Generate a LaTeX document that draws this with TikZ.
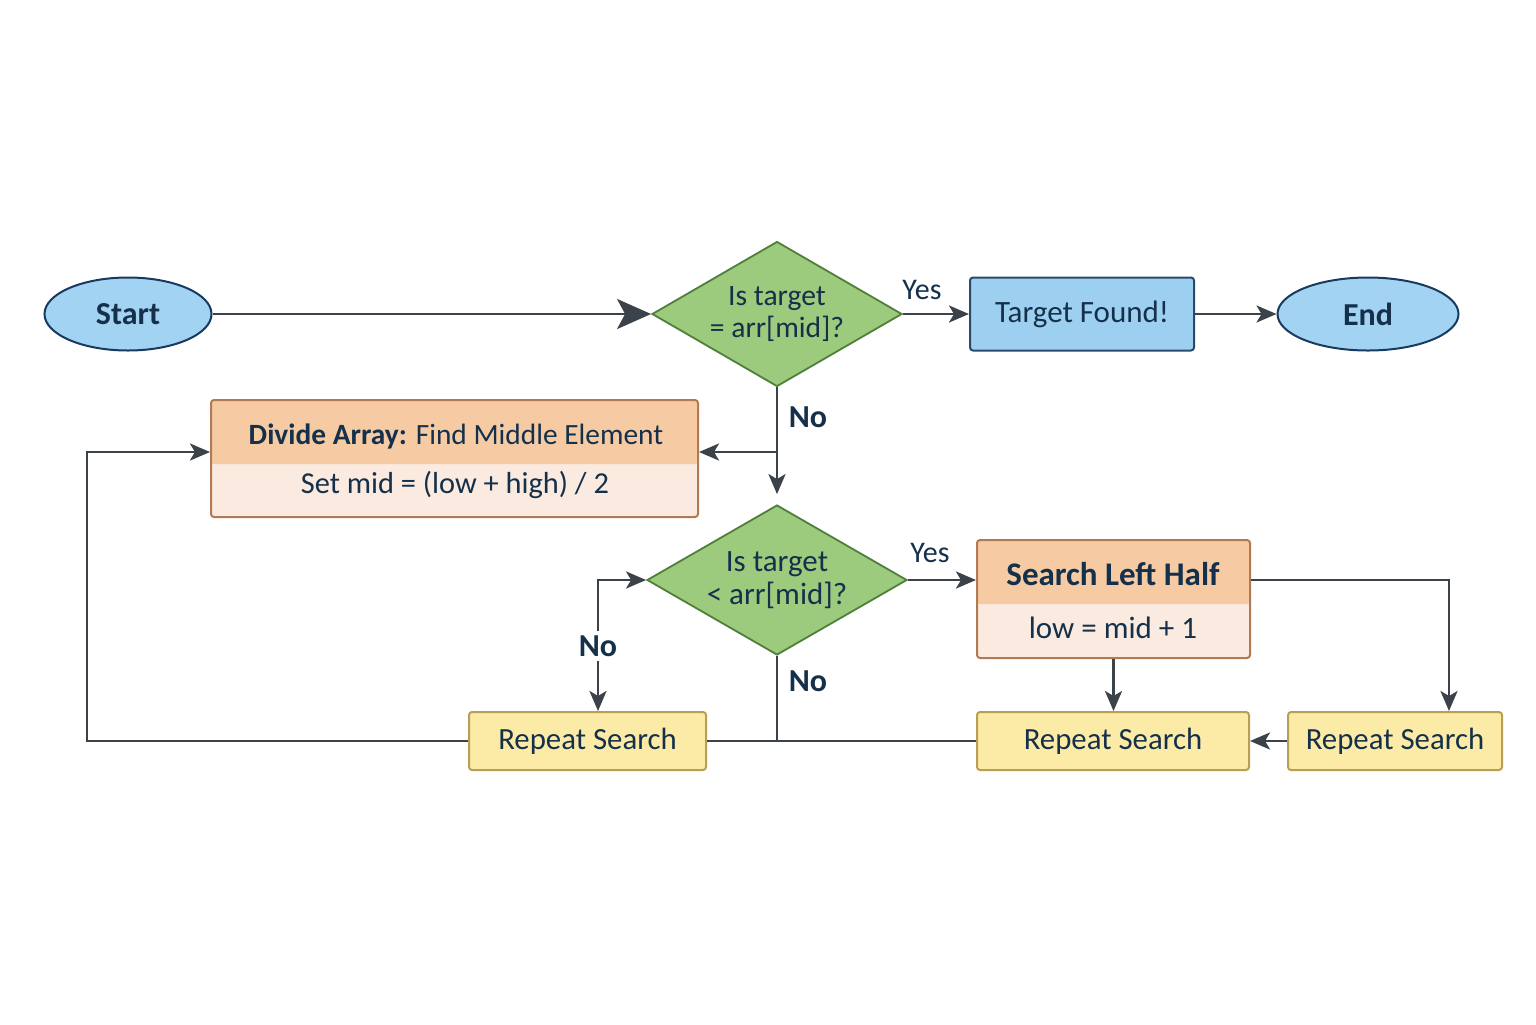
\documentclass[tikz,border=0pt]{standalone}
\usepackage{fontspec}
\setmainfont{Carlito}
\usetikzlibrary{shapes.geometric,arrows.meta,calc}
\definecolor{termfill}{HTML}{A3D3F2}
\definecolor{termborder}{HTML}{173A5E}
\definecolor{decfill}{HTML}{9CCB7E}
\definecolor{decborder}{HTML}{4F7F3A}
\definecolor{procfill}{HTML}{9DD0F0}
\definecolor{procborder}{HTML}{2B4A6B}
\definecolor{hdrfill}{HTML}{F6CBA4}
\definecolor{bodyfill}{HTML}{FAEADF}
\definecolor{oborder}{HTML}{B07A55}
\definecolor{yfill}{HTML}{FCEBA6}
\definecolor{yborder}{HTML}{B99E55}
\definecolor{linec}{HTML}{3C424A}
\definecolor{txt}{HTML}{15304A}
\begin{document}
\begin{tikzpicture}[x=0.5pt,y=-0.5pt,
  term/.style={ellipse, draw=termborder, line width=1pt, fill=termfill, inner sep=0pt,
    font=\fontsize{16}{18}\selectfont\bfseries, text=txt},
  dec/.style={diamond, draw=decborder, fill=decfill, line width=0.9pt, aspect=1.72,
    minimum width=125pt, minimum height=72.5pt, inner sep=0pt, align=center,
    font=\fontsize{14.8}{15.8}\selectfont, text=txt},
  proc/.style={rectangle, rounded corners=1.5pt, draw=procborder, fill=procfill, line width=1pt,
    font=\fontsize{15.5}{17}\selectfont, text=txt},
  obox/.style={rectangle, rounded corners=1.5pt, draw=oborder, fill=bodyfill, line width=1pt,
    path picture={\fill[hdrfill] (path picture bounding box.north west) rectangle ([yshift=-32pt]path picture bounding box.north east);}},
  rep/.style={rectangle, rounded corners=1.5pt, draw=yborder, fill=yfill, line width=1pt,
    minimum height=29pt, font=\fontsize{15.4}{17}\selectfont, text=txt},
  btxt/.style={font=\fontsize{15.2}{17}\selectfont, text=txt, inner sep=0pt},
  lbl/.style={font=\fontsize{15}{16}\selectfont, text=txt, inner sep=1pt},
  nolbl/.style={font=\fontsize{16}{17}\selectfont\bfseries, text=txt, inner sep=2pt},
  edge/.style={draw=linec, line width=1.35pt},
  arr/.style={-{Stealth[length=10pt,width=8.5pt,inset=2.5pt]}},
  bigarr/.style={-{Stealth[length=17pt,width=15pt,inset=4pt]}}
]
\useasboundingbox[fill=white] (0,0) rectangle (1536,1024);

% nodes
\node[term, minimum width=83.5pt, minimum height=36.5pt] (start) at (128,314) {Start};
\node[dec] (d1) at (777,314) {Is target\\= arr[mid]?};
\node[proc, minimum width=112pt, minimum height=36.5pt] (found) at (1082,314) {Target Found!};
\node[term, minimum width=90.5pt, minimum height=36.5pt] (end) at (1368,314) {End};

\node[obox, minimum width=243.5pt, minimum height=58.5pt] (divide) at (454.5,458.5) {};
\node[btxt, font=\fontsize{14.7}{17}\selectfont] (divt) at (456,436) {\textbf{Divide Array:} Find Middle Element};
\node[btxt] (divb) at (455,485) {Set mid = (low + high) / 2};

\node[dec, minimum width=130pt, minimum height=75pt, font=\fontsize{15.5}{16.5}\selectfont] (d2) at (777,580) {Is target\\< arr[mid]?};

\node[obox, minimum width=136.5pt, minimum height=59pt] (slh) at (1113.5,599) {};
\node[btxt, font=\fontsize{16.5}{18}\selectfont\bfseries] (slht) at (1113,574) {Search Left Half};
\node[btxt, font=\fontsize{15.5}{17}\selectfont] (slhb) at (1113,628) {low = mid + 1};

\node[rep, minimum width=118.5pt] (rs1) at (587.5,741) {Repeat Search};
\node[rep, minimum width=136pt] (rs2) at (1113,741) {Repeat Search};
\node[rep, minimum width=107pt] (rs3) at (1395,741) {Repeat Search};

% labels
\node[lbl] (y1) at (922,290) {Yes};
\node[lbl] (y2) at (930,553) {Yes};
\node[nolbl] (n1) at (808,417) {No};
\node[nolbl] (n2) at (808,681) {No};
\node[nolbl] (n3) at (598,646) {No};

\coordinate (j1) at (777,452);
\coordinate (lx) at (87,452);
\coordinate (rx) at (1449,580);

% connectors
\draw[edge,bigarr] (start) -- (d1);
\draw[edge,arr] (d1) -- (found);
\draw[edge,arr] (found) -- (end);
\draw[edge,arr] (d1.south) -- ([yshift=5pt]d2.north);
\draw[edge,arr] (j1) -- (j1 -| divide.east);
\draw[edge,arr] (d2.east) -- (d2.east -| slh.west);
\draw[edge,arr] (d2.east -| slh.east) -- (rx) -- (rx |- rs3.north);
\draw[edge,arr] (slh.south) -- (slh.south |- rs2.north);
\draw[edge,arr] (rs3) -- (rs2);
\draw[edge] (rs2.west) -- (rs1.east);
\draw[edge] (d2.south) -- (d2.south |- rs1.east);
\draw[edge,arr] (rs1.west) -- (rs1.west -| lx) -- (lx) -- (lx -| divide.west);
\draw[edge,arr] (n3.north) |- (d2.west);
\draw[edge,arr] (n3.south) -- (n3.south |- rs1.north);
\end{tikzpicture}
\end{document}
